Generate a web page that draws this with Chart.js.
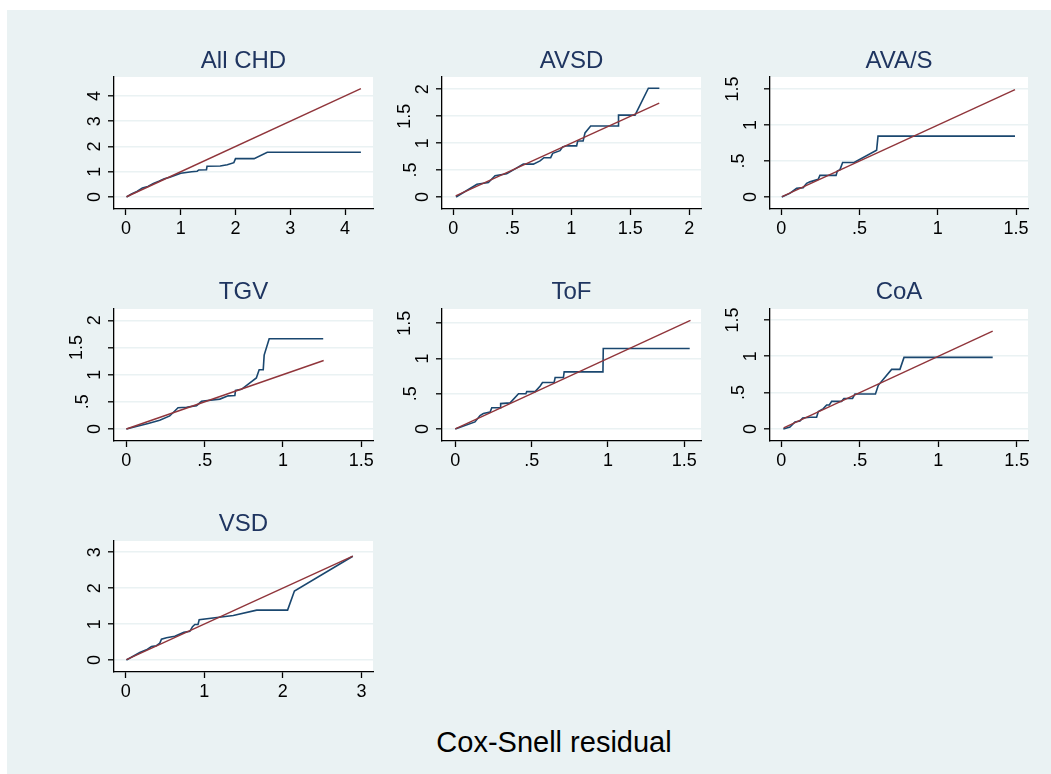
<!DOCTYPE html>
<html>
<head>
<meta charset="utf-8">
<title>Cox-Snell residual</title>
<script src="https://cdn.jsdelivr.net/npm/chart.js@4.4.1/dist/chart.umd.min.js"></script>
<style>
  html, body { margin: 0; padding: 0; background: #ffffff; }
  body { width: 1051px; height: 774px; position: relative; overflow: hidden; }
  #frame { position: absolute; left: 7px; top: 10px; right: 0; bottom: 0; background: #eaf2f3; }
  canvas { position: absolute; }
  #xtitle {
    position: absolute; left: 354px; width: 400px; top: 728px; height: 29px;
    line-height: 29px; text-align: center; color: #000;
    font-family: "Liberation Sans", Arial, sans-serif; font-size: 29px;
  }
</style>
</head>
<body>
<div id="frame"></div>
<div id="xtitle">Cox-Snell residual</div>

<script>
// ---- panel titles ----
const panelTitles = ['All CHD', 'AVSD', 'AVA/S', 'TGV', 'ToF', 'CoA', 'VSD'];

// ---- Nelson-Aalen cumulative hazard against Cox-Snell residual, by group ----
const allChdResidual = [0.01, 0.1, 0.2, 0.3, 0.4, 0.5, 0.6, 0.7, 0.8, 0.9, 1.0, 1.1, 1.2, 1.3, 1.33, 1.47, 1.48, 1.72, 1.85, 1.97, 2.0, 2.34, 2.58, 4.29];
const allChdHazard   = [0.0, 0.12, 0.22, 0.36, 0.42, 0.54, 0.62, 0.72, 0.78, 0.86, 0.94, 0.97, 1.0, 1.02, 1.07, 1.08, 1.22, 1.23, 1.28, 1.36, 1.52, 1.52, 1.77, 1.77];

const avsdResidual = [0.023, 0.2, 0.297, 0.354, 0.452, 0.593, 0.678, 0.735, 0.768, 0.825, 0.842, 0.904, 0.927, 0.96, 1.045, 1.054, 1.1, 1.116, 1.164, 1.398, 1.4, 1.54, 1.653, 1.746];
const avsdHazard   = [0.0, 0.236, 0.27, 0.396, 0.43, 0.61, 0.61, 0.67, 0.73, 0.73, 0.81, 0.86, 0.93, 0.95, 0.95, 1.04, 1.04, 1.19, 1.317, 1.317, 1.52, 1.52, 2.02, 2.02];

const avasResidual = [0.003, 0.054, 0.098, 0.14, 0.162, 0.183, 0.236, 0.247, 0.35, 0.358, 0.375, 0.392, 0.465, 0.609, 0.618, 1.493];
const avasHazard   = [0.0, 0.05, 0.12, 0.13, 0.19, 0.21, 0.245, 0.30, 0.30, 0.36, 0.38, 0.48, 0.48, 0.65, 0.845, 0.845];

const tgvResidual = [0.0, 0.139, 0.213, 0.277, 0.33, 0.384, 0.448, 0.48, 0.597, 0.65, 0.693, 0.697, 0.735, 0.83, 0.848, 0.874, 0.88, 0.912, 1.257];
const tgvHazard   = [0.0, 0.1, 0.16, 0.24, 0.39, 0.40, 0.43, 0.51, 0.55, 0.61, 0.617, 0.71, 0.73, 0.94, 1.09, 1.09, 1.36, 1.66, 1.66];

const tofResidual = [0.0, 0.129, 0.162, 0.184, 0.228, 0.239, 0.293, 0.297, 0.359, 0.414, 0.462, 0.468, 0.523, 0.556, 0.571, 0.647, 0.654, 0.708, 0.713, 0.967, 0.969, 1.535];
const tofHazard   = [0.0, 0.10, 0.19, 0.22, 0.24, 0.30, 0.30, 0.36, 0.37, 0.50, 0.50, 0.53, 0.53, 0.61, 0.66, 0.66, 0.73, 0.73, 0.81, 0.81, 1.143, 1.143];

const coaResidual = [0.013, 0.055, 0.087, 0.119, 0.136, 0.183, 0.225, 0.236, 0.268, 0.289, 0.306, 0.321, 0.384, 0.399, 0.454, 0.469, 0.6, 0.618, 0.703, 0.756, 0.782, 1.347];
const coaHazard   = [0.0, 0.027, 0.097, 0.11, 0.15, 0.16, 0.16, 0.24, 0.28, 0.33, 0.33, 0.38, 0.38, 0.42, 0.42, 0.48, 0.48, 0.6, 0.82, 0.82, 0.985, 0.985];

const vsdResidual = [0.009, 0.179, 0.264, 0.328, 0.391, 0.434, 0.455, 0.519, 0.625, 0.74, 0.816, 0.85, 0.88, 0.92, 0.935, 1.369, 1.667, 2.06, 2.147, 2.89];
const vsdHazard   = [0.0, 0.21, 0.285, 0.377, 0.40, 0.47, 0.58, 0.62, 0.66, 0.77, 0.80, 0.93, 0.99, 0.99, 1.12, 1.24, 1.39, 1.39, 1.92, 2.89];

// ---- 45-degree reference line: from the smallest to the largest residual ----
const allChdDiagonal = [0.01, 4.29];
const avsdDiagonal   = [0.02, 1.745];
const avasDiagonal   = [0.005, 1.493];
const tgvDiagonal    = [0.0, 1.26];
const tofDiagonal    = [0.0, 1.54];
const coaDiagonal    = [0.015, 1.347];
const vsdDiagonal    = [0.01, 2.89];

// ---- axis ticks ----
const allChdXTicks = [0, 1, 2, 3, 4];   const allChdYTicks = [0, 1, 2, 3, 4];
const avsdXTicks   = [0, 0.5, 1, 1.5, 2]; const avsdYTicks = [0, 0.5, 1, 1.5, 2];
const avasXTicks   = [0, 0.5, 1, 1.5];  const avasYTicks   = [0, 0.5, 1, 1.5];
const tgvXTicks    = [0, 0.5, 1, 1.5];  const tgvYTicks    = [0, 0.5, 1, 1.5, 2];
const tofXTicks    = [0, 0.5, 1, 1.5];  const tofYTicks    = [0, 0.5, 1, 1.5];
const coaXTicks    = [0, 0.5, 1, 1.5];  const coaYTicks    = [0, 0.5, 1, 1.5];
const vsdXTicks    = [0, 1, 2, 3];      const vsdYTicks    = [0, 1, 2, 3];

// ---- axis ranges ----
const allChdXRange = [-0.219, 4.511]; const allChdYRange = [-0.475, 4.752];
const avsdXRange   = [-0.096, 2.099]; const avsdYRange   = [-0.223, 2.228];
const avasXRange   = [-0.072, 1.576]; const avasYRange   = [-0.167, 1.667];
const tgvXRange    = [-0.079, 1.575]; const tgvYRange    = [-0.221, 2.208];
const tofXRange    = [-0.087, 1.609]; const tofYRange    = [-0.171, 1.703];
const coaXRange    = [-0.072, 1.572]; const coaYRange    = [-0.166, 1.651];
const vsdXRange    = [-0.149, 3.147]; const vsdYRange    = [-0.332, 3.313];

// ---- layout: plot rectangle of every panel (left, top, right, bottom) ----
const panelBoxes = [
  [114, 77, 373, 209], [442, 77, 701, 209], [770, 77, 1028, 209],
  [114, 309, 373, 441], [442, 309, 701, 441], [770, 309, 1028, 441],
  [114, 541, 373, 672]
];
const titleGaps = [15.5, 15.5, 15.5, 17, 17, 17, 17];

const NAVY = '#1a476f';
const MAROON = '#90353b';
const GRID = '#eaf2f3';
const FONT = '"Liberation Sans", Arial, Helvetica, sans-serif';
const PAD_L = 60, PAD_T = 50, PAD_R = 8, PAD_B = 40;

// Stata-style number labels: leading zero dropped (".5")
function fmt(v) {
  if (v === 0) return '0';
  let s = String(Math.round(v * 1000) / 1000);
  if (s.startsWith('0.')) s = s.slice(1);
  return s;
}

function points(xs, ys) { return xs.map((x, i) => ({ x: x, y: ys[i] })); }

// white plot region
const plotBackground = {
  id: 'plotBackground',
  beforeDraw(chart) {
    const { ctx, chartArea: a } = chart;
    ctx.save();
    ctx.fillStyle = '#ffffff';
    ctx.fillRect(a.left, a.top, a.right - a.left, a.bottom - a.top);
    ctx.restore();
  }
};

// vertical y tick labels and the panel heading
const panelText = {
  id: 'panelText',
  afterDraw(chart, args, opts) {
    const { ctx, chartArea: a } = chart;
    const ys = chart.scales.y;
    ctx.save();
    ctx.fillStyle = '#000';
    ctx.font = '18px ' + FONT;
    ctx.textAlign = 'center';
    ctx.textBaseline = 'middle';
    ys.ticks.forEach(t => {
      const label = fmt(t.value);
      const off = label.length === 1 ? 19.5 : (label.length === 2 ? 32 : 37.5);
      const px = ys.getPixelForValue(t.value);
      ctx.save();
      ctx.translate(a.left - off, px);
      ctx.rotate(-Math.PI / 2);
      ctx.fillText(label, 0, 1);
      ctx.restore();
    });
    ctx.fillStyle = '#1f3560';
    ctx.font = '24px ' + FONT;
    ctx.textBaseline = 'middle';
    ctx.fillText(opts.title, (a.left + a.right) / 2, a.top - opts.gap);
    ctx.restore();
  }
};

const panels = [
  [allChdResidual, allChdHazard, allChdDiagonal, allChdXTicks, allChdYTicks, allChdXRange, allChdYRange],
  [avsdResidual, avsdHazard, avsdDiagonal, avsdXTicks, avsdYTicks, avsdXRange, avsdYRange],
  [avasResidual, avasHazard, avasDiagonal, avasXTicks, avasYTicks, avasXRange, avasYRange],
  [tgvResidual, tgvHazard, tgvDiagonal, tgvXTicks, tgvYTicks, tgvXRange, tgvYRange],
  [tofResidual, tofHazard, tofDiagonal, tofXTicks, tofYTicks, tofXRange, tofYRange],
  [coaResidual, coaHazard, coaDiagonal, coaXTicks, coaYTicks, coaXRange, coaYRange],
  [vsdResidual, vsdHazard, vsdDiagonal, vsdXTicks, vsdYTicks, vsdXRange, vsdYRange]
];

panels.forEach((p, i) => {
  const [res, haz, diag, xt, yt, xr, yr] = p;
  const [L, T, R, B] = panelBoxes[i];
  const cv = document.createElement('canvas');
  const w = R - L + PAD_L + PAD_R, h = B - T + PAD_T + PAD_B;
  cv.width = w; cv.height = h;
  cv.style.left = (L - PAD_L) + 'px';
  cv.style.top = (T - PAD_T) + 'px';
  cv.style.width = w + 'px'; cv.style.height = h + 'px';
  document.body.appendChild(cv);

  new Chart(cv, {
    type: 'line',
    data: {
      datasets: [
        { data: points(diag, diag), borderColor: MAROON, borderWidth: 1.4, order: 0 },
        { data: points(res, haz), borderColor: NAVY, borderWidth: 1.6, order: 1 }
      ]
    },
    options: {
      responsive: false,
      devicePixelRatio: 1,
      animation: false,
      events: [],
      layout: { padding: { left: 0, top: PAD_T, right: PAD_R, bottom: 0 } },
      elements: { point: { radius: 0 }, line: { tension: 0, borderJoinStyle: 'miter' } },
      plugins: {
        legend: { display: false },
        tooltip: { enabled: false },
        title: { display: false },
        panelText: { title: panelTitles[i], gap: titleGaps[i] }
      },
      scales: {
        x: {
          type: 'linear', min: xr[0], max: xr[1], offset: false,
          afterBuildTicks: s => { s.ticks = xt.map(v => ({ value: v })); },
          afterFit: s => { s.height = PAD_B; },
          grid: { drawOnChartArea: false, drawTicks: true, tickLength: 6, tickColor: '#000', tickWidth: 1.3 },
          border: { display: true, color: '#000', width: 1.3 },
          ticks: {
            color: '#000', padding: 3, maxRotation: 0, autoSkip: false,
            font: { family: FONT, size: 18 },
            callback: v => fmt(v)
          }
        },
        y: {
          type: 'linear', min: yr[0], max: yr[1],
          afterBuildTicks: s => { s.ticks = yt.map(v => ({ value: v })); },
          afterFit: s => { s.width = PAD_L; },
          grid: { drawOnChartArea: true, color: GRID, lineWidth: 1.6, drawTicks: true, tickLength: 6, tickColor: '#000', tickWidth: 1.3 },
          border: { display: true, color: '#000', width: 1.3 },
          ticks: { display: false }
        }
      }
    },
    plugins: [plotBackground, panelText]
  });
});
</script>
</body>
</html>
